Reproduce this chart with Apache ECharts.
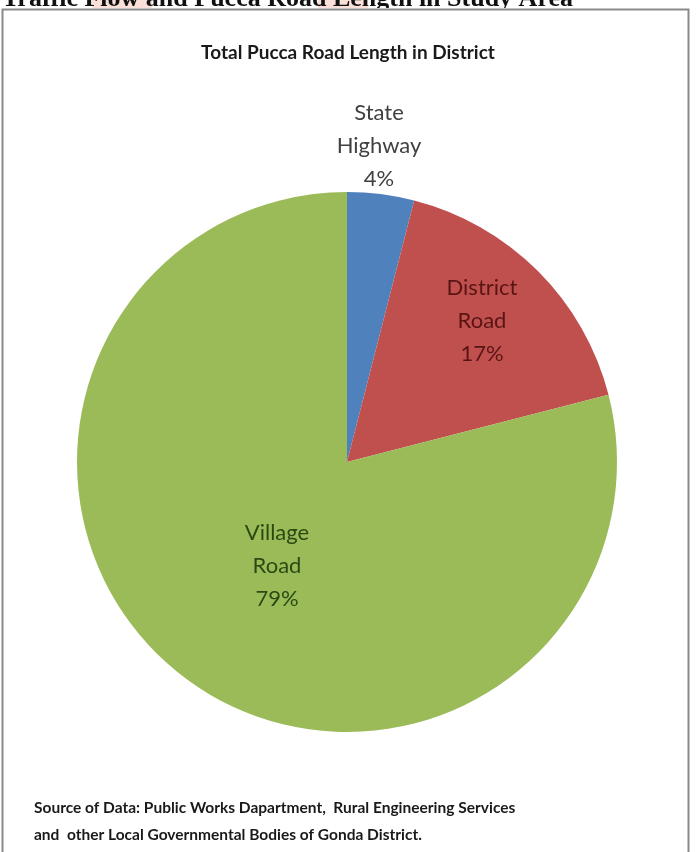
<!DOCTYPE html>
<html>
<head>
<meta charset="utf-8">
<script src="https://cdn.jsdelivr.net/npm/echarts@6/dist/echarts.min.js"></script>
<style>html,body{margin:0;padding:0;background:#fff;}#c{width:696px;height:852px;}</style>
</head>
<body>
<div id="c"></div>
<script>
const categories = ['State Highway', 'District Road', 'Village Road'];
const values = [4, 17, 79];
const colors = ['#4F81BD', '#C0504D', '#9BBB59'];
const labelColors = ['#404040', '#5a1414', '#2a4a12'];
const titleText = 'Total Pucca Road Length in District';
const sourceLines = ['Source of Data: Public Works Dapartment,  Rural Engineering Services', 'and  other Local Governmental Bodies of Gonda District.'];
const headerText = 'Traffic Flow and Pucca Road Length in Study Area';

const chart = echarts.init(document.getElementById('c'), null, {renderer: 'canvas'});
const font = 'Lato, "Open Sans", sans-serif';
chart.setOption({
  backgroundColor: '#fff',
  animation: false,
  title: {
    text: titleText, left: 'center', top: 38,
    textStyle: {fontFamily: font, fontSize: 19, fontWeight: 'bold', color: '#1a1a1a'}
  },
  graphic: [
    {type: 'rect', shape: {x: 92, y: 0, width: 60, height: 8}, style: {fill: '#fbe0da'}, z: 0},
    {type: 'rect', shape: {x: 318, y: 0, width: 50, height: 8}, style: {fill: '#fbe0da'}, z: 0},
    {type: 'text', right: 123, top: -14, z: 1, style: {text: headerText, font: 'bold 26px "Liberation Serif", serif', fill: '#111'}},
    {type: 'rect', shape: {x: 0, y: 8, width: 696, height: 900}, style: {fill: '#fff'}, z: 1},
    {type: 'rect', shape: {x: 2.5, y: 9.5, width: 686, height: 860}, style: {fill: 'none', stroke: '#8a8a8a', lineWidth: 2}, z: 2},
    {type: 'text', left: 34, top: 794, z: 3, style: {text: sourceLines.join('\n'), font: 'bold 15.5px ' + font, fill: '#1a1a1a', lineHeight: 27}}
  ],
  series: [{
    type: 'pie',
    z: 5,
    center: [347, 462],
    radius: 270,
    startAngle: 90,
    clockwise: true,
    data: categories.map((n, i) => ({
      name: n, value: values[i],
      itemStyle: {color: colors[i]},
      label: {color: labelColors[i], position: i === 0 ? 'outside' : 'inside'},
      labelLine: {show: false, length: 48, length2: 0}
    })),
    label: {
      fontFamily: font, fontSize: 22, lineHeight: 33, align: 'center',
      formatter: p => p.name.replace(' ', '\n') + '\n' + p.value + '%'
    },
    labelLayout: function (p) {
      if (p.dataIndex === 0) {
        return {x: 379, y: 146, align: 'center', verticalAlign: 'middle'};
      }
      if (p.dataIndex === 1) {
        return {x: 482, y: 321, align: 'center', verticalAlign: 'middle'};
      }
      if (p.dataIndex === 2) {
        return {x: 277, y: 566, align: 'center', verticalAlign: 'middle'};
      }
    }
  }]
});
</script>
</body>
</html>
